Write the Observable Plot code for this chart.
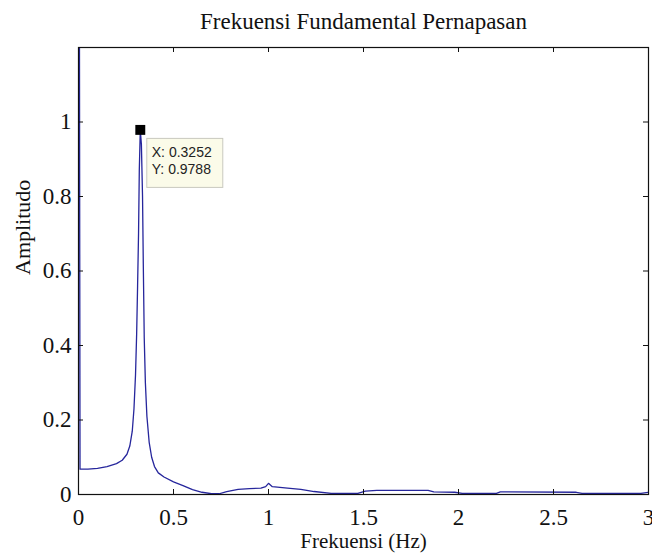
<!DOCTYPE html>
<html><head><meta charset="utf-8">
<script src="https://cdn.jsdelivr.net/npm/d3@7"></script>
<script src="https://cdn.jsdelivr.net/npm/@observablehq/plot@0.6"></script>
<style>html,body{margin:0;padding:0;background:#fff;overflow:hidden} #chart svg{display:block}</style>
</head><body><div id="chart"></div>
<script>
// ---- data ----
const freq = [0, 0.008, 0.05, 0.10, 0.15, 0.20, 0.23, 0.255, 0.27, 0.283, 0.292, 0.300, 0.306, 0.311, 0.316, 0.320, 0.3252, 0.331, 0.337, 0.341, 0.346, 0.352, 0.36, 0.372, 0.385, 0.40, 0.42, 0.45, 0.50, 0.55, 0.60, 0.65, 0.70, 0.74, 0.78, 0.84, 0.90, 0.96, 0.985, 1.0, 1.02, 1.10, 1.17, 1.24, 1.33, 1.47, 1.51, 1.57, 1.84, 1.87, 1.98, 2.02, 2.20, 2.22, 2.62, 2.65, 2.96, 3.0];
const amp = [3.2, 0.068, 0.068, 0.070, 0.075, 0.083, 0.092, 0.108, 0.13, 0.17, 0.23, 0.32, 0.43, 0.56, 0.70, 0.87, 0.9788, 0.94, 0.80, 0.62, 0.42, 0.30, 0.21, 0.14, 0.10, 0.075, 0.058, 0.047, 0.034, 0.024, 0.013, 0.006, 0.002, 0.002, 0.008, 0.014, 0.016, 0.017, 0.021, 0.030, 0.021, 0.017, 0.014, 0.008, 0.003, 0.003, 0.009, 0.011, 0.011, 0.007, 0.006, 0.003, 0.003, 0.007, 0.006, 0.003, 0.003, 0.006];
const xTicks = [0, 0.5, 1, 1.5, 2, 2.5, 3];
const xTickLabels = ["0", "0.5", "1", "1.5", "2", "2.5", "3"];
const yTicks = [0, 0.2, 0.4, 0.6, 0.8, 1];
const yTickLabels = ["0", "0.2", "0.4", "0.6", "0.8", "1"];
const xDomain = [0, 3];
const yDomain = [0, 1.2];
const peakX = [0.3252];
const peakY = [0.9788];
const titleText = "Frekuensi Fundamental Pernapasan";
const xLabel = "Frekuensi (Hz)";
const yLabel = "Amplitudo";

// ---- layout ----
const W = 652, H = 553;
const mT = 47, mB = 59, mL = 78, mR = 4;
const frameW = W - mL - mR, frameH = H - mT - mB;
const tickLen = 5;
const serif = "Liberation Serif, Times New Roman, serif";
const ink = "#111";
const lineColor = "#26269c";

const data = freq.map((f, i) => ({f, a: amp[i]}));
const peak = peakX.map((x, i) => ({x, y: peakY[i]}));

const plot = Plot.plot({
  width: W, height: H,
  marginTop: mT, marginBottom: mB, marginLeft: mL, marginRight: mR,
  x: {domain: xDomain, axis: null},
  y: {domain: yDomain, axis: null},
  style: {fontFamily: serif, background: "#fff", overflow: "visible"},
  marks: [
    Plot.line(data, {x: "f", y: "a", stroke: lineColor, strokeWidth: 1.3, clip: true}),
    // inward ticks on all four sides
    Plot.tickX(xTicks, {x: d => d, insetTop: frameH - tickLen, stroke: ink}),
    Plot.tickX(xTicks, {x: d => d, insetBottom: frameH - tickLen, stroke: ink}),
    Plot.tickY(yTicks, {y: d => d, insetRight: frameW - tickLen, stroke: ink}),
    Plot.tickY(yTicks, {y: d => d, insetLeft: frameW - tickLen, stroke: ink}),
    Plot.frame({stroke: ink, strokeWidth: 1.2}),
    // tick labels
    Plot.text(xTicks, {x: d => d, text: (d, i) => xTickLabels[i], frameAnchor: "bottom", lineAnchor: "middle", dy: 23, fontSize: 23, fill: ink}),
    Plot.text(yTicks, {y: d => d, text: (d, i) => yTickLabels[i], frameAnchor: "left", textAnchor: "end", lineAnchor: "middle", dx: -7, fontSize: 23, fill: ink}),
    // titles
    Plot.text([titleText], {frameAnchor: "top", lineAnchor: "middle", dy: -26, fontSize: 23, fill: ink}),
    Plot.text([xLabel], {frameAnchor: "bottom", lineAnchor: "middle", dy: 47, fontSize: 21, fill: ink}),
    Plot.text([yLabel], {frameAnchor: "left", rotate: -90, lineAnchor: "middle", dx: -56, dy: 4, fontSize: 22, fill: ink}),
    // data tip marker
    Plot.dot(peak, {x: "x", y: "y", symbol: "square", r: 5.6, fill: "#000", stroke: "none"})
  ]
});

// data tip box positioned from the library's scales
const sx = plot.scale("x"), sy = plot.scale("y");
const px = sx.apply(peakX[0]), py = sy.apply(peakY[0]);
const g = d3.select(plot).append("g")
  .attr("font-family", "Liberation Sans, Arial, sans-serif")
  .attr("font-size", 14)
  .attr("text-anchor", "start");
g.append("rect").attr("x", px + 7).attr("y", py + 9).attr("width", 76).attr("height", 49)
  .attr("fill", "#fbfbe9").attr("stroke", "#c9c9bf").attr("stroke-width", 1);
g.append("text").attr("x", px + 12).attr("y", py + 28).attr("fill", "#222").text(`X: ${peakX[0].toFixed(4)}`);
g.append("text").attr("x", px + 12).attr("y", py + 45).attr("fill", "#222").text(`Y: ${peakY[0].toFixed(4)}`);

document.getElementById("chart").appendChild(plot);
</script>
</body></html>
